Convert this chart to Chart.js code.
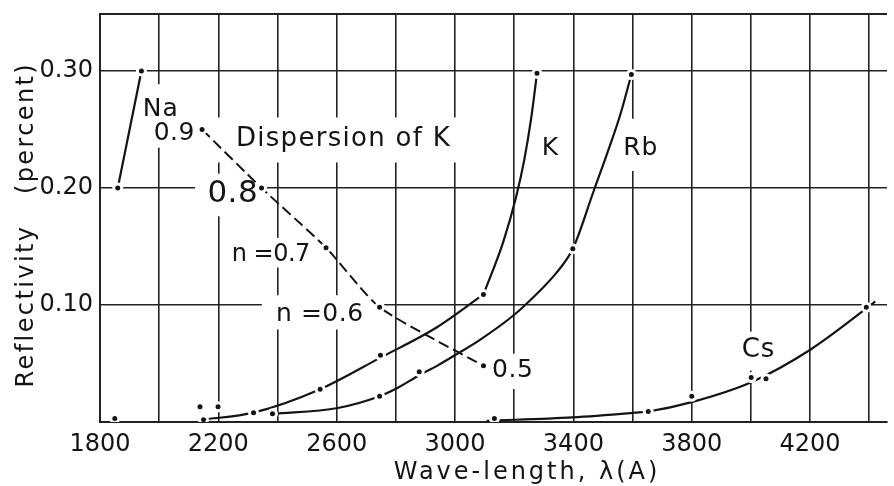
<!DOCTYPE html>
<html>
<head>
<meta charset="utf-8">
<title>Reflectivity of the alkali metals</title>
<script src="https://cdn.jsdelivr.net/npm/chart.js@4"></script>
<style>
  html, body { margin: 0; padding: 0; background: #fff; }
  canvas { display: block; }
</style>
</head>
<body>
<canvas id="chart" width="894" height="486"></canvas>
<script>
// ---- Data: wave-length in Angstrom, reflectivity in percent ----
const naWave = [1860, 1940];
const naRefl = [0.200, 0.300];
const naDotWave = [1850, 1860, 1940];
const naDotRefl = [0.003, 0.200, 0.300];

const kLowWave = [2145, 2319, 2544, 2748, 2939, 3096];
const kLowRefl = [0.002, 0.008, 0.028, 0.055, 0.081, 0.109];
const kHighWave = [3096, 3163, 3207, 3234, 3257, 3277];
const kHighRefl = [0.109, 0.154, 0.193, 0.224, 0.259, 0.298];
const kDotWave = [2138, 2150, 2199, 2319, 2544, 2748, 3096, 3277];
const kDotRefl = [0.013, 0.002, 0.013, 0.008, 0.028, 0.057, 0.109, 0.298];

const rbWave = [2383, 2604, 2745, 2805, 2879, 2939, 3006, 3083, 3197, 3274, 3341, 3398, 3468, 3519, 3559, 3596];
const rbRefl = [0.007, 0.012, 0.022, 0.029, 0.040, 0.048, 0.058, 0.070, 0.091, 0.109, 0.127, 0.148, 0.197, 0.233, 0.263, 0.297];
const rbDotWave = [2383, 2745, 2879, 3398, 3596];
const rbDotRefl = [0.007, 0.022, 0.043, 0.148, 0.297];

const csWave = [3107, 3398, 3609, 3653, 3800, 4001, 4202, 4400, 4420];
const csRefl = [0.001, 0.004, 0.008, 0.009, 0.017, 0.034, 0.062, 0.099, 0.103];
const csDotWave = [3133, 3653, 3800, 4001, 4051, 4390];
const csDotRefl = [0.003, 0.009, 0.022, 0.038, 0.037, 0.098];

// Dispersion of K: refractive index n along the curve
const dispN = [0.9, 0.8, 0.7, 0.6, 0.5];
const dispWave = [2145, 2346, 2564, 2745, 3096];
const dispRefl = [0.250, 0.200, 0.149, 0.098, 0.048];

// Axes
const xGridValues = [1800, 2000, 2200, 2400, 2600, 2800, 3000, 3200, 3400, 3600, 3800, 4000, 4200, 4400];
const xTickLabels = [1800, 2200, 2600, 3000, 3400, 3800, 4200];
const yGridValues = [0, 0.10, 0.20, 0.30];
const xMin = 1800, xMax = 4460, yMin = 0, yMax = 0.3487;

// ---- Style ----
const INK = '#141414';
const GRID = '#222222';
const FONT = '"DejaVu Sans", "Liberation Sans", sans-serif';

const pts = (xs, ys) => xs.map((x, i) => ({ x: x, y: ys[i] }));

function curve(xs, ys, extra) {
  return Object.assign({
    data: pts(xs, ys),
    borderColor: INK,
    borderWidth: 2.2,
    pointRadius: 0,
    fill: false,
    cubicInterpolationMode: 'monotone',
    order: 2
  }, extra || {});
}

function dots(xs, ys) {
  return {
    data: pts(xs, ys),
    showLine: false,
    pointRadius: 4,
    pointBorderWidth: 3,
    pointBorderColor: '#ffffff',
    pointBackgroundColor: INK,
    order: 1
  };
}

// Text placed on the plot (white backing breaks the grid behind it)
const dispLabelLayout = [
  { prefix: '', dx: -28, dy: 1, size: 25, spacing: 0.5, pad: [6, 6, 4, 8] },
  { prefix: '', dx: -29, dy: 3, size: 31, spacing: 0.5, pad: [12, 6, 4, 14] },
  { prefix: 'n =', dx: -55, dy: 5, size: 24, spacing: -0.5, pad: [4, 6, 4, 6] },
  { prefix: 'n =', dx: -60, dy: 5, size: 25, spacing: 0.5, pad: [14, 8, 12, 8] },
  { prefix: '', dx: 29, dy: 2, size: 25, spacing: 0.5, pad: [4, 5, 4, 12] }
];
const curveLabels = [
  { text: 'Na', wave: 2004, refl: 0.269, size: 25, spacing: 1, pad: [6, 14, 6, 3] },
  { text: 'Dispersion of K', wave: 2621, refl: 0.2436, size: 26, spacing: 1.3, pad: [22, 10, 8, 16] },
  { text: 'K', wave: 3321, refl: 0.236, size: 25, spacing: 0, pad: [4, 4, 4, 4] },
  { text: 'Rb', wave: 3626, refl: 0.236, size: 25, spacing: 1, pad: [6, 18, 6, 16] },
  { text: 'Cs', wave: 4024, refl: 0.064, size: 26, spacing: 1, pad: [6, 6, 6, 14] }
];

function drawBoxedText(ctx, text, cx, cy, size, spacing, pad) {
  ctx.font = size + 'px ' + FONT;
  ctx.letterSpacing = spacing + 'px';
  const w = ctx.measureText(text).width;
  const capH = size * 0.73;
  ctx.fillStyle = '#ffffff';
  ctx.fillRect(cx - w / 2 - pad[0], cy - capH / 2 - pad[1], w + pad[0] + pad[2], capH + pad[1] + pad[3]);
  ctx.fillStyle = INK;
  ctx.textAlign = 'center';
  ctx.textBaseline = 'alphabetic';
  ctx.fillText(text, cx + spacing / 2, cy + capH / 2);
}

const plotDecor = {
  id: 'plotDecor',
  beforeDatasetsDraw(chart) {
    const { ctx, chartArea, scales } = chart;
    const x = scales.x, y = scales.y;
    ctx.save();
    // top frame line
    ctx.strokeStyle = GRID;
    ctx.lineWidth = 2;
    ctx.beginPath();
    ctx.moveTo(chartArea.left, chartArea.top);
    ctx.lineTo(chartArea.right, chartArea.top);
    ctx.stroke();

    dispN.forEach((n, i) => {
      const L = dispLabelLayout[i];
      const px = x.getPixelForValue(dispWave[i]) + L.dx;
      const py = y.getPixelForValue(dispRefl[i]) + L.dy;
      drawBoxedText(ctx, L.prefix + n.toFixed(1), px, py, L.size, L.spacing, L.pad);
    });
    curveLabels.forEach(l => {
      drawBoxedText(ctx, l.text, x.getPixelForValue(l.wave), y.getPixelForValue(l.refl), l.size, l.spacing, l.pad);
    });
    ctx.restore();
  },
  afterDraw(chart) {
    const { ctx } = chart;
    ctx.save();
    ctx.fillStyle = INK;
    // x-axis title
    ctx.font = '24px ' + FONT;
    ctx.letterSpacing = '3px';
    ctx.textAlign = 'center';
    ctx.textBaseline = 'alphabetic';
    ctx.fillText('Wave-length, \u03BB(A)', 527, 479);
    // y-axis title, written bottom to top
    ctx.translate(33, 0);
    ctx.rotate(-Math.PI / 2);
    ctx.font = '24px ' + FONT;
    ctx.letterSpacing = '2.4px';
    ctx.fillText('Reflectivity', -306, 0);
    ctx.fillText('(percent)', -128, 0);
    ctx.restore();
  }
};

new Chart(document.getElementById('chart'), {
  type: 'line',
  data: {
    datasets: [
      curve(naWave, naRefl, { cubicInterpolationMode: 'default', tension: 0 }),
      curve(kLowWave, kLowRefl),
      curve(kHighWave, kHighRefl),
      curve(rbWave, rbRefl),
      curve(csWave, csRefl),
      curve(dispWave, dispRefl, { borderDash: [11, 5], borderWidth: 2, cubicInterpolationMode: 'default', tension: 0.2 }),
      dots(naDotWave, naDotRefl),
      dots(kDotWave, kDotRefl),
      dots(rbDotWave, rbDotRefl),
      dots(csDotWave, csDotRefl),
      dots(dispWave, dispRefl)
    ]
  },
  options: {
    responsive: false,
    animation: false,
    devicePixelRatio: 1,
    layout: { padding: { top: 14, left: 0, right: 0, bottom: 0 } },
    plugins: { legend: { display: false }, tooltip: { enabled: false } },
    scales: {
      x: {
        type: 'linear',
        min: xMin, max: xMax,
        afterBuildTicks: s => { s.ticks = xGridValues.map(v => ({ value: v })); },
        afterFit: s => { s.height = 64; s.paddingLeft = 0; s.paddingRight = 0; },
        ticks: {
          autoSkip: false, maxRotation: 0, padding: 8, color: INK,
          font: { family: FONT, size: 24 },
          callback: v => xTickLabels.includes(v) ? String(v) : ''
        },
        grid: { color: GRID, lineWidth: 1.6, drawTicks: false },
        border: { display: true, color: GRID, width: 2 }
      },
      y: {
        type: 'linear',
        min: yMin, max: yMax,
        afterBuildTicks: s => { s.ticks = yGridValues.map(v => ({ value: v })); },
        afterFit: s => { s.width = 100; s.paddingTop = 0; s.paddingBottom = 0; },
        ticks: {
          padding: 7, color: INK,
          font: { family: FONT, size: 24 },
          callback: v => v === 0 ? '' : v.toFixed(2)
        },
        grid: { color: GRID, lineWidth: 1.6, drawTicks: false },
        border: { display: true, color: GRID, width: 2 }
      }
    }
  },
  plugins: [plotDecor]
});
</script>
</body>
</html>
